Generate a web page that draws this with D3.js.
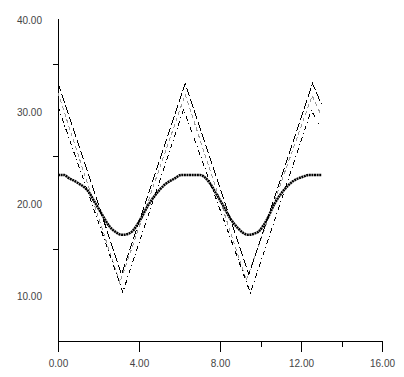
<!DOCTYPE html>
<meta charset="utf-8">
<style>
  body { margin: 0; background: #fff; }
  .tick text { font-family: "Liberation Sans", Arial, sans-serif; font-size: 10px; fill: #444; }
</style>
<script src="https://d3js.org/d3.v7.min.js"></script>
<div id="chart"></div>
<script>
// thick smooth curve
var smoothX = [0, 0.3, 0.5, 1.0, 1.5, 1.8, 2.15, 2.55, 2.85, 3.14, 3.45, 3.65, 4.1, 4.45, 4.8, 5.25, 5.75, 6.1, 6.5, 7.0,
               7.5, 7.8, 8.15, 8.5, 8.9, 9.15, 9.4, 9.65, 9.9, 10.3, 10.7, 11.1, 11.6, 12.1, 12.4, 13.0];
var smoothY = [23.0, 23.0, 22.7, 22.1, 21.2, 20.1, 18.8, 17.4, 16.8, 16.5, 16.6, 16.85, 18.3, 19.7, 20.8, 21.9, 22.6, 23.0, 23.0, 23.0,
               22.1, 21.0, 19.7, 18.3, 17.2, 16.7, 16.5, 16.6, 16.85, 18.1, 19.9, 21.2, 22.3, 22.8, 23.0, 23.0];

// three triangle-like lines
var longX = [0, 3.14, 6.28, 9.42, 12.57, 13.0];
var longY = [33.0, 12.2, 32.9, 12.2, 32.9, 30.7];
var grayX = [0, 3.05, 6.28, 9.3, 12.55, 12.95];
var grayY = [31.9, 11.3, 31.7, 11.6, 31.6, 29.7];
var dotX = [0, 3.2, 6.2, 9.5, 12.5, 12.9];
var dotY = [30.4, 10.3, 30.1, 10.2, 30.0, 28.5];

var xMajor = [0, 4, 8, 12, 16];
var xMinor = [10, 14];
var yMajor = [10, 20, 30, 40];
var yMinor = [15, 25, 35];

var W = 404, H = 377;
var svg = d3.select("#chart").append("svg")
    .attr("width", W)
    .attr("height", H);

var x = d3.scaleLinear().domain([0, 16]).range([58, 382]);
var y = d3.scaleLinear().domain([5, 40]).range([341, 18]);

// axes
var yAxis = svg.append("g")
    .attr("transform", "translate(58,0)")
    .call(d3.axisLeft(y).tickValues(yMajor).tickSize(0).tickSizeOuter(0).tickPadding(16)
      .tickFormat(d3.format(".2f")));
yAxis.select(".domain").attr("stroke", "#000").attr("shape-rendering", "crispEdges");
yAxis.selectAll(".tick text").attr("dy", "0.5em");

svg.append("g")
    .attr("transform", "translate(58,0)")
    .call(d3.axisLeft(y).tickValues(yMinor).tickSize(5).tickSizeOuter(0).tickFormat(""))
    .call(function(g) { g.select(".domain").remove(); })
    .selectAll("line").attr("shape-rendering", "crispEdges");

var xAxis = svg.append("g")
    .attr("transform", "translate(0,341)")
    .call(d3.axisBottom(x).tickValues(xMajor).tickSize(11).tickSizeOuter(0).tickPadding(8)
      .tickFormat(d3.format(".2f")));
xAxis.selectAll("line, path").attr("shape-rendering", "crispEdges");

svg.append("g")
    .attr("transform", "translate(0,341)")
    .call(d3.axisBottom(x).tickValues(xMinor).tickSize(6).tickSizeOuter(0).tickFormat(""))
    .call(function(g) { g.select(".domain").remove(); })
    .selectAll("line").attr("shape-rendering", "crispEdges");

function pts(xs, ys) {
  return xs.map(function(v, i) { return [v, ys[i]]; });
}

var straight = d3.line()
    .x(function(d) { return x(d[0]); })
    .y(function(d) { return y(d[1]); });

var smooth = d3.line()
    .curve(d3.curveMonotoneX)
    .x(function(d) { return x(d[0]); })
    .y(function(d) { return y(d[1]); });

svg.append("path")
    .datum(pts(grayX, grayY))
    .attr("d", straight)
    .attr("fill", "none")
    .attr("stroke", "#999")
    .attr("stroke-width", 1)
    .attr("stroke-dasharray", "4,3")
    .attr("shape-rendering", "crispEdges");

svg.append("path")
    .datum(pts(dotX, dotY))
    .attr("d", straight)
    .attr("fill", "none")
    .attr("stroke", "#000")
    .attr("stroke-width", 1)
    .attr("stroke-dasharray", "5,3,1,3")
    .attr("shape-rendering", "crispEdges");

svg.append("path")
    .datum(pts(longX, longY))
    .attr("d", straight)
    .attr("fill", "none")
    .attr("stroke", "#000")
    .attr("stroke-width", 1)
    .attr("stroke-dasharray", "9,3")
    .attr("shape-rendering", "crispEdges");

svg.append("path")
    .datum(pts(smoothX, smoothY))
    .attr("d", smooth)
    .attr("fill", "none")
    .attr("stroke", "#000")
    .attr("stroke-width", 2.5)
    .attr("stroke-dasharray", "2,0.6")
    .attr("stroke-linecap", "butt");
</script>
